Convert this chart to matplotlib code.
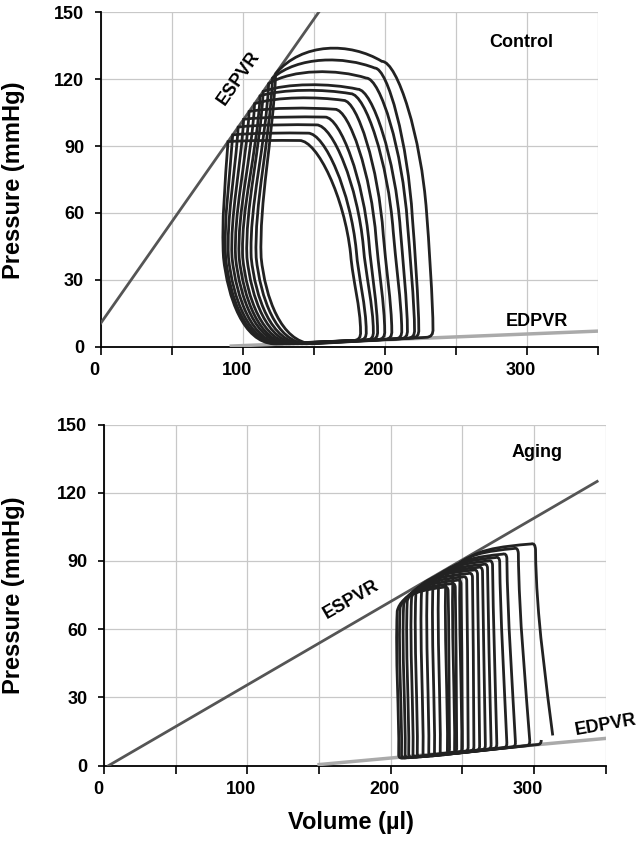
import matplotlib
matplotlib.use('Agg')
import matplotlib.pyplot as plt
from matplotlib.path import Path
from matplotlib.patches import PathPatch
from matplotlib.transforms import ScaledTranslation

plt.rcParams['font.family'] = ['Liberation Sans', 'DejaVu Sans']
plt.rcParams['font.weight'] = 'bold'

#*** Reference lines (volume, pressure end points)
ctl_espvr_v = [0, 153.5]
ctl_espvr_p = [10.5, 150]
ctl_edpvr_v = [92, 350]
ctl_edpvr_p = [0.3, 7]
agi_espvr_v = [3, 344]
agi_espvr_p = [0, 125]
agi_edpvr_v = [150, 350]
agi_edpvr_p = [0.5, 12]

#*** Control loops (small -> large)
ctl_edv = [183, 187, 192, 195, 200, 205, 212, 216, 221, 224, 234]
ctl_ped = [2.8, 2.9, 3.0, 3.1, 3.2, 3.3, 3.5, 3.6, 3.8, 3.9, 4.2]
ctl_vmid = [176, 180, 185, 189, 194, 199, 206, 211, 216, 219.5, 229.5]
ctl_pmax = [92.5, 95.8, 99.5, 103, 107, 111.6, 115, 117.5, 123.3, 128.5, 133.8]
ctl_pshoulder = [92.5, 95.8, 99.5, 103, 106.5, 110.5, 113.5, 115.5, 120.5, 125, 128]
ctl_vtr = [140, 146, 152, 158, 165, 171, 176, 181, 187, 193, 198]
ctl_pes = [92, 95, 98.5, 102, 105.5, 109, 112.5, 114.5, 118, 120.5, 122.5]
ctl_vleft = [86.5, 88, 90, 92.5, 95, 97.5, 100, 103, 106, 109.5, 113]
ctl_vbot = [122, 124, 126, 128, 131, 133, 136, 139, 142, 145, 149]

#*** Aging loops (small -> large)
agi_edv = [241, 246, 250, 254, 258, 262, 266, 270, 274, 281, 287, 297, 313]
agi_ped = [5.5, 5.8, 6.0, 6.3, 6.5, 6.7, 7.0, 7.2, 7.5, 7.9, 8.2, 8.8, 11.3]
agi_vh = [240, 245, 249, 253, 257, 260.5, 264, 267.5, 271, 276, 281, 289, 301]
agi_ph = [77, 78.5, 80, 81.5, 83, 84.3, 85.5, 87, 88.3, 89.8, 91.2, 93.4, 95]
agi_ptop = [78.5, 80, 81.5, 83, 84.5, 86, 87.2, 88.5, 90, 91.5, 93, 95.5, 97.5]
agi_esv = [204, 206, 208.5, 211, 214, 217, 221, 225, 229, 233, 238, 243, 248]
agi_pes = [68, 69.5, 71, 72.5, 74, 75.5, 77, 78.5, 80, 81.5, 83, 85, 87]
agi_plo = [3.3, 3.4, 3.5, 3.6, 3.7, 3.9, 4.0, 4.3, 4.5, 4.8, 5.2, 5.5, 5.9]
agi_vfill = [241, 246, 250, 254, 258, 262, 266, 270, 274, 281, 287, 297, 305]
agi_pfill = [5.5, 5.8, 6.0, 6.3, 6.5, 6.7, 7.0, 7.2, 7.5, 7.9, 8.2, 8.8, 9.3]

x_ticks = [0, 50, 100, 150, 200, 250, 300, 350]
x_labels = ['0', '', '100', '', '200', '', '300', '']
y_ticks = [0, 30, 60, 90, 120, 150]

LOOP_COL = '#222222'


def make_path(start, segs):
    verts = [start]
    codes = [Path.MOVETO]
    for s in segs:
        verts += list(s)
        if len(s) == 1:
            codes.append(Path.LINETO)
        elif len(s) == 2:
            codes += [Path.CURVE3] * 2
        else:
            codes += [Path.CURVE4] * 3
    return Path(verts, codes)


def control_loop(edv, ped, vmid, pmax, psh, vtr, pes, vleft, vbot):
    # corner sits on the ESPVR
    m = (ctl_espvr_p[1] - ctl_espvr_p[0]) / (ctl_espvr_v[1] - ctl_espvr_v[0])
    ves = ctl_espvr_v[0] + (pes - ctl_espvr_p[0]) / m
    pm = 0.45 * pmax
    hc = (pmax - 0.125 * (psh + pes)) / 0.75
    segs = [
        [(edv, ped + 15), (vmid + 1.5, pm - 12), (vmid, pm)],
        [(vmid - 0.12 * (vmid - vtr), pm + 0.5 * (psh - pm)),
         (vtr + 0.35 * (vmid - vtr), psh), (vtr, psh)],
        [(vtr - 0.3 * (vtr - ves), hc), (ves + 0.25 * (vtr - ves), hc), (ves, pes)],
        [(ves - 2, pes - 0.35 * (pes - 40)), (vleft - 1.5, 40 + 0.3 * (pes - 40)), (vleft, 40)],
        [(vleft + 3, 22), (vleft + 14, 2), (vbot, 1.3)],
        [(edv - 5, ped)],
        [(edv + 0.5, ped), (edv, ped + 4)],
    ]
    return make_path((edv, ped + 4), segs)


def aging_loop(edv, ped, vh, ph, ptop, esv, pes, plo, vfill, pfill):
    segs = [
        [(edv - 0.35 * (edv - vh), 35), (vh + 0.5, 65), (vh, ph)],
        [(vh - 0.3, ptop + 0.6), (vh - 3, ptop)],
        [(vh - 3 - 0.4 * (vh - 3 - esv), ptop - 0.1 * (ptop - pes)),
         (esv + 0.1 * (vh - esv), pes + 0.75 * (ptop - pes)), (esv + 0.5, pes)],
        [(esv - 1, pes - 20), (esv + 2, plo + 20), (esv + 1.5, plo + 1.5)],
        [(esv + 1.5, plo), (esv + 4, plo)],
        [(vfill - 2.5, pfill)],
        [(vfill, pfill), (vfill, pfill + 2)],
    ]
    return make_path((edv, ped + 2), segs)


def style_axes(ax, fig):
    ax.set_xlim(0, 350)
    ax.set_ylim(0, 150)
    ax.set_xticks(x_ticks)
    ax.set_xticklabels(x_labels)
    ax.set_yticks(y_ticks)
    ax.grid(True, color='#c8c8c8', lw=0.9)
    ax.set_axisbelow(True)
    for s in ['top', 'right']:
        ax.spines[s].set_visible(False)
    for s in ['left', 'bottom']:
        ax.spines[s].set_linewidth(1.3)
    ax.tick_params(axis='x', length=6, width=1.2, pad=5, labelsize=13)
    ax.tick_params(axis='y', length=4, width=1.2, pad=8, labelsize=13)
    for lab in ax.get_xticklabels():
        lab.set_transform(lab.get_transform() + ScaledTranslation(-0.06, 0, fig.dpi_scale_trans))


fig = plt.figure(figsize=(6.4, 8.43), dpi=100)
ax1 = fig.add_axes([0.1573, 0.5887, 0.7766, 0.3967])
ax2 = fig.add_axes([0.1627, 0.0917, 0.7838, 0.4047])

#*** Control panel
style_axes(ax1, fig)
ax1.plot(ctl_espvr_v, ctl_espvr_p, color='#555555', lw=2, zorder=3)
ax1.plot(ctl_edpvr_v, ctl_edpvr_p, color='#aaaaaa', lw=2.5, zorder=3)
for i in range(len(ctl_edv)):
    p = control_loop(ctl_edv[i], ctl_ped[i], ctl_vmid[i], ctl_pmax[i], ctl_pshoulder[i],
                     ctl_vtr[i], ctl_pes[i], ctl_vleft[i], ctl_vbot[i])
    ax1.add_patch(PathPatch(p, fill=False, edgecolor=LOOP_COL, lw=2, zorder=4))
ax1.text(296, 136.5, 'Control', fontsize=13, ha='center', va='center')
ax1.text(97, 120.5, 'ESPVR', fontsize=13, ha='center', va='center', rotation=55)
ax1.text(307, 11.5, 'EDPVR', fontsize=13, ha='center', va='center')

#*** Aging panel
style_axes(ax2, fig)
ax2.plot(agi_espvr_v, agi_espvr_p, color='#555555', lw=2, zorder=3)
ax2.plot(agi_edpvr_v, agi_edpvr_p, color='#aaaaaa', lw=2.5, zorder=3)
for i in range(len(agi_edv)):
    p = aging_loop(agi_edv[i], agi_ped[i], agi_vh[i], agi_ph[i], agi_ptop[i],
                   agi_esv[i], agi_pes[i], agi_plo[i], agi_vfill[i], agi_pfill[i])
    ax2.add_patch(PathPatch(p, fill=False, edgecolor=LOOP_COL, lw=2, zorder=4))
ax2.text(302, 137.5, 'Aging', fontsize=13, ha='center', va='center')
ax2.text(172.5, 73, 'ESPVR', fontsize=13, ha='center', va='center', rotation=30)
ax2.text(350, 18, 'EDPVR', fontsize=13, ha='center', va='center', rotation=10, clip_on=False)

# axis titles
fig.text(14 / 640, 1 - 180 / 843, 'Pressure (mmHg)', fontsize=17, rotation=90,
         ha='center', va='center')
fig.text(14 / 640, 1 - 595 / 843, 'Pressure (mmHg)', fontsize=17, rotation=90,
         ha='center', va='center')
fig.text(351 / 640, 1 - 822 / 843, 'Volume (\u00b5l)', fontsize=17, ha='center', va='center')

fig.savefig('out.png', dpi=100)
